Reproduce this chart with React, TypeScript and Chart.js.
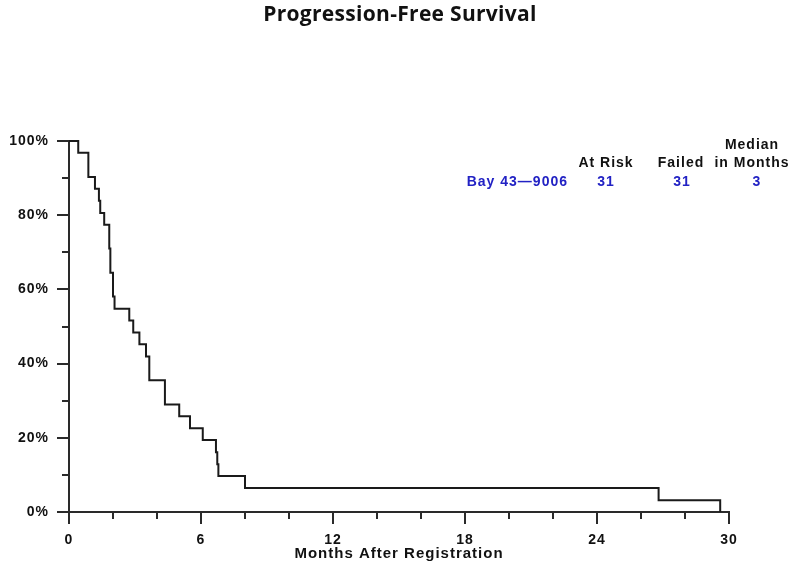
import { useEffect, useRef } from "react";
import { Chart, registerables } from "chart.js";

Chart.register(...registerables);

// ---- data ----
const chartTitle = "Progression-Free Survival";
const xAxisTitle = "Months After Registration";
// event times (months) and Kaplan-Meier survival (%) after each drop
const months = [0, 0.42, 0.88, 1.18, 1.36, 1.42, 1.6, 1.83, 1.88, 2.0, 2.07, 2.74, 2.92, 3.2, 3.5, 3.65, 4.36, 5.01, 5.5, 6.08, 6.68, 6.74, 6.79, 8.0, 26.8, 29.6];
const survivalPct = [100, 96.8, 90.3, 87.1, 83.9, 80.6, 77.4, 71.0, 64.5, 58.1, 54.8, 51.6, 48.4, 45.2, 41.9, 35.5, 29.0, 25.8, 22.6, 19.4, 16.1, 12.9, 9.7, 6.5, 3.2, 0];
const xTickLabels = [0, 6, 12, 18, 24, 30];
const yTickLabels = [0, 20, 40, 60, 80, 100];
const groupNames = ["Bay 43\u20149006"];
const atRisk = [31];
const failed = [31];
const medianMonths = [3];

const W = 800;
const H = 578;
const AREA = { left: 69, right: 729, top: 141, bottom: 512 };
const Y_AXIS_W = 60;
const X_AXIS_H = 51;
const FONT = '"Liberation Sans", Arial, sans-serif';
const AXIS_COLOR = "#2a2a2a";
const BLUE = "#2222c4";

export default function App() {
  const ref = useRef<HTMLCanvasElement | null>(null);

  useEffect(() => {
    if (!ref.current) return;

    const decorations = {
      id: "decorations",
      beforeDraw(chart: any) {
        (chart.ctx as any).letterSpacing = "1px";
      },
      afterDraw(chart: any) {
        const { ctx } = chart;
        const xs = chart.scales.x;
        const ys = chart.scales.y;
        const left = chart.chartArea.left;
        const bottom = chart.chartArea.bottom;
        ctx.save();
        // tick marks
        ctx.strokeStyle = AXIS_COLOR;
        ctx.lineWidth = 2;
        ys.ticks.forEach((t: any) => {
          const py = Math.round(ys.getPixelForValue(t.value));
          const len = yTickLabels.includes(t.value) ? 12 : 7;
          ctx.beginPath();
          ctx.moveTo(left - len, py);
          ctx.lineTo(left, py);
          ctx.stroke();
        });
        xs.ticks.forEach((t: any) => {
          const px = Math.round(xs.getPixelForValue(t.value));
          const len = xTickLabels.includes(t.value) ? 12 : 7;
          ctx.beginPath();
          ctx.moveTo(px, bottom);
          ctx.lineTo(px, bottom + len);
          ctx.stroke();
        });
        // title
        ctx.fillStyle = "#111";
        ctx.font = 'bold 21px "Open Sans", sans-serif';
        (ctx as any).letterSpacing = "0.3px";
        ctx.textAlign = "center";
        ctx.textBaseline = "alphabetic";
        ctx.fillText(chartTitle, W / 2, 21);
        // legend table
        ctx.font = `bold 14px ${FONT}`;
        (ctx as any).letterSpacing = "1px";
        ctx.textBaseline = "middle";
        ctx.fillStyle = "#111";
        ctx.fillText("Median", 752, 145);
        ctx.fillText("At Risk", 606, 163);
        ctx.fillText("Failed", 681, 163);
        ctx.fillText("in Months", 752, 163);
        groupNames.forEach((g, i) => {
          const yy = 182 + i * 18;
          ctx.fillStyle = BLUE;
          ctx.textAlign = "right";
          ctx.fillText(g, 568, yy);
          ctx.textAlign = "center";
          ctx.fillText(String(atRisk[i]), 606, yy);
          ctx.fillText(String(failed[i]), 682, yy);
          ctx.fillText(String(medianMonths[i]), 757, yy);
        });
        ctx.restore();
      },
    };

    const tickFont = { family: FONT, size: 14, weight: "bold" as const };

    const chart = new Chart(ref.current, {
      type: "line",
      data: {
        datasets: [
          {
            label: groupNames[0],
            data: months.map((m, i) => ({ x: m, y: survivalPct[i] })),
            stepped: "before",
            borderColor: "#1a1a1a",
            borderWidth: 2,
            pointRadius: 0,
            fill: false,
            clip: false as any,
          },
        ],
      },
      options: {
        responsive: false,
        animation: false,
        devicePixelRatio: 1,
        layout: {
          padding: {
            left: AREA.left - Y_AXIS_W,
            right: W - AREA.right,
            top: AREA.top,
            bottom: H - AREA.bottom - X_AXIS_H,
          },
        },
        plugins: {
          legend: { display: false },
          tooltip: { enabled: false },
          title: { display: false },
        },
        scales: {
          x: {
            type: "linear",
            min: 0,
            max: 30,
            grid: { display: false, drawTicks: false },
            border: { display: true, color: AXIS_COLOR, width: 2 },
            ticks: {
              stepSize: 2,
              autoSkip: false,
              maxRotation: 0,
              padding: 20,
              color: "#111",
              font: tickFont,
              callback: (v: any) => (xTickLabels.includes(Number(v)) ? String(v) : ""),
            },
            title: {
              display: true,
              text: xAxisTitle,
              color: "#111",
              font: { family: FONT, size: 15, weight: "bold" as const },
              padding: { top: 0, bottom: 0 },
            },
            afterFit: (s: any) => {
              s.height = X_AXIS_H;
            },
          },
          y: {
            type: "linear",
            min: 0,
            max: 100,
            grid: { display: false, drawTicks: false },
            border: { display: true, color: AXIS_COLOR, width: 2 },
            ticks: {
              stepSize: 10,
              autoSkip: false,
              padding: 20,
              color: "#111",
              font: tickFont,
              callback: (v: any) => (yTickLabels.includes(Number(v)) ? `${v}%` : ""),
            },
            afterFit: (s: any) => {
              s.width = Y_AXIS_W;
            },
          },
        },
      },
      plugins: [decorations],
    });

    return () => chart.destroy();
  }, []);

  return (
    <div style={{ position: "fixed", left: 0, top: 0, width: W, height: H, background: "#fff" }}>
      <canvas ref={ref} width={W} height={H} style={{ width: W, height: H, display: "block" }} />
    </div>
  );
}
